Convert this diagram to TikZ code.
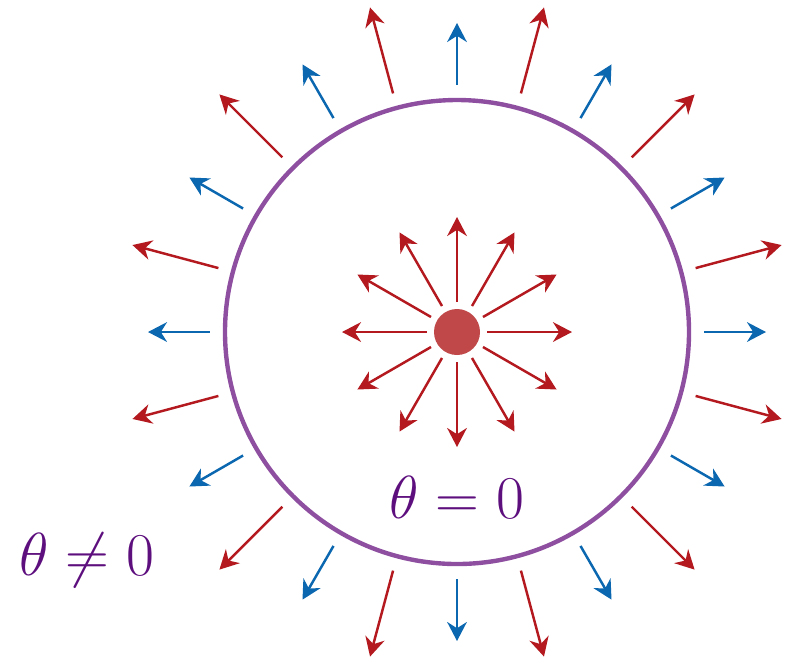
\documentclass[tikz,border=0pt]{standalone}
\usepackage{amsmath,amssymb}
\usepackage{xcolor}
\usepackage{tikz}
\usetikzlibrary{arrows.meta}

\definecolor{fieldred}{HTML}{B3191F}
\definecolor{fieldblue}{HTML}{0A67B0}
\definecolor{chargered}{HTML}{C04848}
\definecolor{ringpurple}{HTML}{8E4FA0}
\definecolor{labelpurple}{HTML}{5E0F7E}

\begin{document}
\begin{tikzpicture}[>={Stealth[length=5.4pt,width=5.6pt]}]
  \useasboundingbox (-4.57,-3.31) rectangle (3.35,3.32);
  % charge and its own field
  \coordinate (charge) at (0,0);
  \fill[chargered] (charge) circle (0.23);
  \foreach \a in {0,30,...,330}
    \draw[fieldred,line width=0.7pt,->] (\a:0.30) -- (\a:1.15);
  % boundary
  \draw[ringpurple,line width=1.25pt] (charge) circle (2.32);
  % field outside
  \foreach \a in {0,30,...,330}
    \draw[fieldblue,line width=0.7pt,->] (\a:2.47) -- (\a:3.09);
  \foreach \a in {15,45,...,345}
    \draw[fieldred,line width=0.7pt,->] (\a:2.47) -- (\a:3.36);
  \node[labelpurple,font=\fontsize{18}{22}\selectfont] (inlabel) at (0,-1.65) {$\theta=0$};
  \node[labelpurple,font=\fontsize{18}{22}\selectfont] (outlabel) at (-3.70,-2.28) {$\theta\neq0$};
\end{tikzpicture}
\end{document}
